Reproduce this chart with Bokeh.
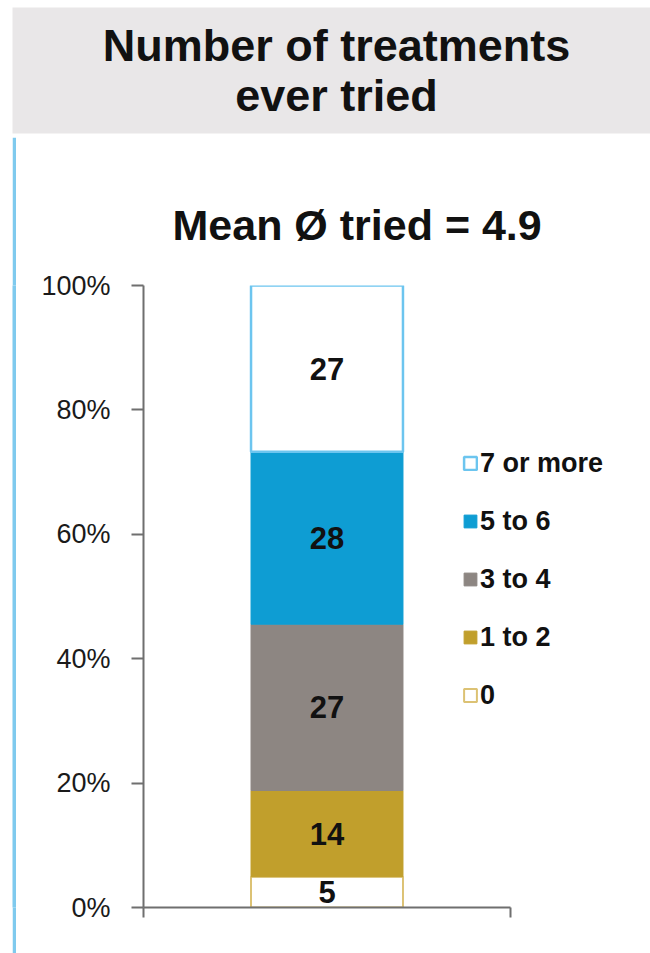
from bokeh.plotting import figure
from bokeh.models import Range1d, FixedTicker, Legend, LegendItem, Title, ColumnDataSource, Spacer
from bokeh.layouts import column, row
from bokeh.core.properties import value
from bokeh.embed import file_html
from bokeh.resources import INLINE

# Data
title_lines = ["Number of treatments", "ever tried"]
subtitle = "Mean Ø tried = 4.9"
categories = ["0", "1 to 2", "3 to 4", "5 to 6", "7 or more"]
shares = [5, 14, 27, 28, 27]
tick_vals = [0, 20, 40, 60, 80, 100]
tick_labels = ["0%", "20%", "40%", "60%", "80%", "100%"]

# Styles
fills = ["#ffffff", "#c19f2c", "#8d8682", "#0e9dd3", "#ffffff"]
edges = ["#dcc274", "#c19f2c", "#8d8682", "#0e9dd3", "#6cc5ef"]
edge_widths = [2, 1, 1, 1, 2.5]
FONT = "Liberation Sans"
AXIS = "#6f6f6f"
STRIPE = "#7fcaee"

# Header band
hdr = figure(width=650, height=137, x_range=Range1d(0, 650), y_range=Range1d(0, 137),
             x_axis_type=None, y_axis_type=None, toolbar_location=None,
             output_backend="svg", min_border=0, outline_line_color=None)
hdr.quad(left=12, right=650, bottom=4, top=130, fill_color="#e9e7e8", line_color=None)
hdr.text(x=[336, 336], y=[92, 42], text=title_lines, text_align="center",
         text_baseline="middle", text_font=value(FONT), text_font_style="bold",
         text_font_size="45px", text_color="#111111")

# Thin light-blue rule on the left
strip = figure(width=4, height=816, x_axis_type=None, y_axis_type=None,
               toolbar_location=None, output_backend="svg", min_border=0,
               outline_line_color=None, border_fill_color=STRIPE,
               background_fill_color=STRIPE)

# Main 100% stacked column; the frame runs on to the right so the legend fits
p = figure(width=634, height=816, x_range=Range1d(0, 502 / 367), y_range=Range1d(0, 100),
           toolbar_location=None, output_backend="svg",
           min_border_left=127, min_border_right=5, min_border_top=148,
           min_border_bottom=46, outline_line_color=None)
p.xgrid.visible = False
p.ygrid.visible = False

total = sum(shares)
norm = [v * 100.0 / total for v in shares]
src = ColumnDataSource({"x": [0.5], **{c: [n] for c, n in zip(categories, norm)}})
renderers = p.vbar_stack(categories, x="x", width=0.414, source=src,
                         fill_color=fills, line_color=edges, line_width=edge_widths)

# Segment value labels
mids, acc = [], 0.0
for n in norm:
    mids.append(acc + n / 2)
    acc += n
lbl = ColumnDataSource({"x": [0.5] * len(shares), "y": mids,
                        "t": [str(v) for v in shares]})
p.text(x="x", y="y", text="t", source=lbl, text_align="center", text_baseline="middle",
       text_font=value(FONT), text_font_style="bold", text_font_size="31px",
       text_color="#111111")

# Axes
p.yaxis.ticker = FixedTicker(ticks=tick_vals)
p.yaxis.major_label_overrides = {v: s for v, s in zip(tick_vals, tick_labels)}
p.yaxis.major_tick_out = 12
p.yaxis.major_tick_in = 0
p.yaxis.minor_tick_line_color = None
p.yaxis.major_label_standoff = 21
p.yaxis.major_label_text_font = FONT
p.yaxis.major_label_text_font_size = "27px"
p.yaxis.major_label_text_color = "#1a1a1a"

p.xaxis.ticker = FixedTicker(ticks=[0, 1])
p.xaxis.bounds = (0, 1)
p.xaxis.major_label_overrides = {0: "", 1: ""}
p.xaxis.major_tick_out = 10
p.xaxis.major_tick_in = 0
p.xaxis.minor_tick_line_color = None

for ax in (p.xaxis, p.yaxis):
    ax.axis_line_color = AXIS
    ax.axis_line_width = 2
    ax.major_tick_line_color = AXIS
    ax.major_tick_line_width = 2

p.add_layout(Title(text=subtitle, align="left", offset=29, text_font=FONT,
                   text_font_style="bold", text_font_size="43px",
                   text_color="#111111", standoff=73), "above")

# Legend, top entry first
items = [LegendItem(label=c, renderers=[r]) for c, r in zip(categories, renderers)][::-1]
legend = Legend(items=items, location=(319, 196), padding=0, margin=0,
                spacing=26, glyph_width=16, glyph_height=16, label_height=32,
                label_standoff=2, label_text_font=FONT, label_text_font_style="bold",
                label_text_font_size="27px", label_text_color="#111111",
                background_fill_alpha=0, border_line_color=None)
p.add_layout(legend)

layout = column(hdr, row(Spacer(width=12, height=816), strip, p))
open("out.html", "w").write(file_html(layout, INLINE))
